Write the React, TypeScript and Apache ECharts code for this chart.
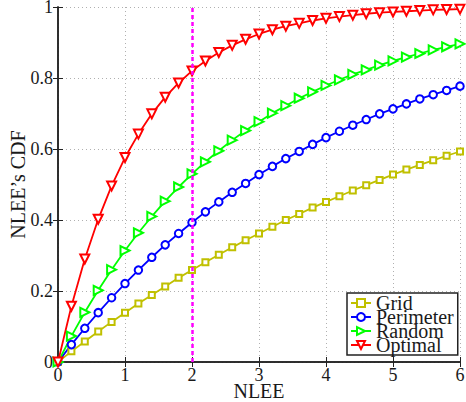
import React, { useEffect, useRef } from "react";
import * as echarts from "echarts";

const xValues = [0, 0.2, 0.4, 0.6, 0.8, 1.0, 1.2, 1.4, 1.6, 1.8, 2.0, 2.2, 2.4, 2.6, 2.8, 3.0, 3.2, 3.4, 3.6, 3.8, 4.0, 4.2, 4.4, 4.6, 4.8, 5.0, 5.2, 5.4, 5.6, 5.8, 6.0];

const gridValues = [0, 0.030, 0.058, 0.086, 0.113, 0.139, 0.165, 0.189, 0.213, 0.237, 0.259, 0.281, 0.302, 0.323, 0.343, 0.362, 0.381, 0.400, 0.417, 0.435, 0.451, 0.467, 0.483, 0.498, 0.513, 0.528, 0.542, 0.555, 0.568, 0.581, 0.593];

const perimeterValues = [0, 0.049, 0.095, 0.139, 0.181, 0.221, 0.259, 0.295, 0.330, 0.362, 0.393, 0.423, 0.451, 0.478, 0.503, 0.528, 0.551, 0.573, 0.593, 0.613, 0.632, 0.650, 0.667, 0.683, 0.699, 0.713, 0.727, 0.741, 0.753, 0.765, 0.777];

const randomValues = [0, 0.073, 0.140, 0.202, 0.260, 0.314, 0.364, 0.410, 0.453, 0.493, 0.530, 0.564, 0.595, 0.625, 0.652, 0.677, 0.701, 0.722, 0.743, 0.761, 0.779, 0.795, 0.810, 0.823, 0.836, 0.848, 0.859, 0.869, 0.879, 0.888, 0.896];

const optimalValues = [0, 0.157, 0.290, 0.402, 0.496, 0.576, 0.642, 0.699, 0.746, 0.786, 0.820, 0.848, 0.872, 0.892, 0.909, 0.924, 0.936, 0.946, 0.954, 0.962, 0.968, 0.973, 0.977, 0.981, 0.984, 0.986, 0.988, 0.990, 0.992, 0.993, 0.994];

const seriesNames = ["Grid", "Perimeter", "Random", "Optimal"];
const markerX = 2;

const FONT = "'Liberation Serif', 'DejaVu Serif', serif";
const TXT = "#1a1a1a";

function zip(ys: number[]) {
  return xValues.map((x, i) => [x, ys[i]]);
}

export default function App() {
  const ref = useRef<HTMLDivElement>(null);
  useEffect(() => {
    if (!ref.current) return;
    const chart = echarts.init(ref.current, undefined, { renderer: "svg" });
    const axisLine = { show: true, lineStyle: { color: "#222", width: 1.5 } };
    const tick = { show: true, inside: true, length: 5, lineStyle: { color: "#222", width: 1 } };
    const split = { show: true, lineStyle: { color: "#b0b0b0", type: [1, 3] as any, width: 1 } };
    chart.setOption({
      animation: false,
      backgroundColor: "#fff",
      grid: { left: 58, right: 6, top: 7, bottom: 40, containLabel: false, outerBoundsMode: "none" },
      legend: {
        orient: "vertical",
        left: 347,
        top: 293,
        data: seriesNames,
        backgroundColor: "#fff",
        borderColor: "#222",
        borderWidth: 1.5,
        borderRadius: 0,
        padding: [0, 4, 0, 3],
        itemGap: -6,
        itemWidth: 20,
        itemHeight: 10,
        textStyle: { fontFamily: FONT, fontSize: 20, color: TXT },
      },
      xAxis: [
        {
          type: "value",
          min: 0,
          max: 6,
          interval: 1,
          name: "NLEE",
          nameLocation: "middle",
          nameGap: 19,
          nameMoveOverlap: false,
          nameTextStyle: { fontFamily: FONT, fontSize: 20, color: TXT },
          axisLine,
          axisTick: tick,
          splitLine: split,
          axisLabel: { fontFamily: FONT, fontSize: 18, color: TXT, margin: 4 },
        },
        {
          type: "value",
          position: "top",
          min: 0,
          max: 6,
          interval: 1,
          axisLine,
          axisTick: tick,
          splitLine: { show: false },
          axisLabel: { show: false },
        },
      ],
      yAxis: [
        {
          type: "value",
          min: 0,
          max: 1,
          interval: 0.2,
          name: "NLEE’s CDF",
          nameLocation: "middle",
          nameGap: 30,
          nameMoveOverlap: false,
          nameTextStyle: { fontFamily: FONT, fontSize: 20, color: TXT },
          axisLine,
          axisTick: tick,
          splitLine: split,
          axisLabel: { fontFamily: FONT, fontSize: 18, color: TXT, margin: 5 },
        },
        {
          type: "value",
          position: "right",
          min: 0,
          max: 1,
          interval: 0.2,
          axisLine,
          axisTick: tick,
          splitLine: { show: false },
          axisLabel: { show: false },
        },
      ],
      series: [
        {
          name: "Grid",
          type: "line",
          data: zip(gridValues),
          symbol: "emptyRect",
          symbolSize: 6,
          lineStyle: { color: "#c0c000", width: 1.8 },
          itemStyle: { color: "#c0c000", borderWidth: 1.5 },
        },
        {
          name: "Perimeter",
          type: "line",
          data: zip(perimeterValues),
          symbol: "emptyCircle",
          symbolSize: 7.5,
          lineStyle: { color: "#0000ff", width: 1.8 },
          itemStyle: { color: "#0000ff", borderWidth: 1.5 },
        },
        {
          name: "Random",
          type: "line",
          data: zip(randomValues),
          symbol: "emptyTriangle",
          symbolRotate: -90,
          symbolSize: 9,
          lineStyle: { color: "#00ff00", width: 1.8 },
          itemStyle: { color: "#00ff00", borderWidth: 1.5 },
        },
        {
          name: "Optimal",
          type: "line",
          data: zip(optimalValues),
          symbol: "emptyTriangle",
          symbolRotate: 180,
          symbolSize: 9,
          lineStyle: { color: "#ff0000", width: 1.8 },
          itemStyle: { color: "#ff0000", borderWidth: 1.5 },
          markLine: {
            silent: true,
            symbol: ["none", "none"],
            label: { show: false },
            lineStyle: { color: "#ff00ff", type: [4, 3], width: 2.5 },
            data: [{ xAxis: markerX }],
          },
        },
      ],
    });
    return () => chart.dispose();
  }, []);
  return (
    <div
      ref={ref}
      style={{ position: "absolute", left: 0, top: 0, width: 466, height: 402 }}
    />
  );
}
